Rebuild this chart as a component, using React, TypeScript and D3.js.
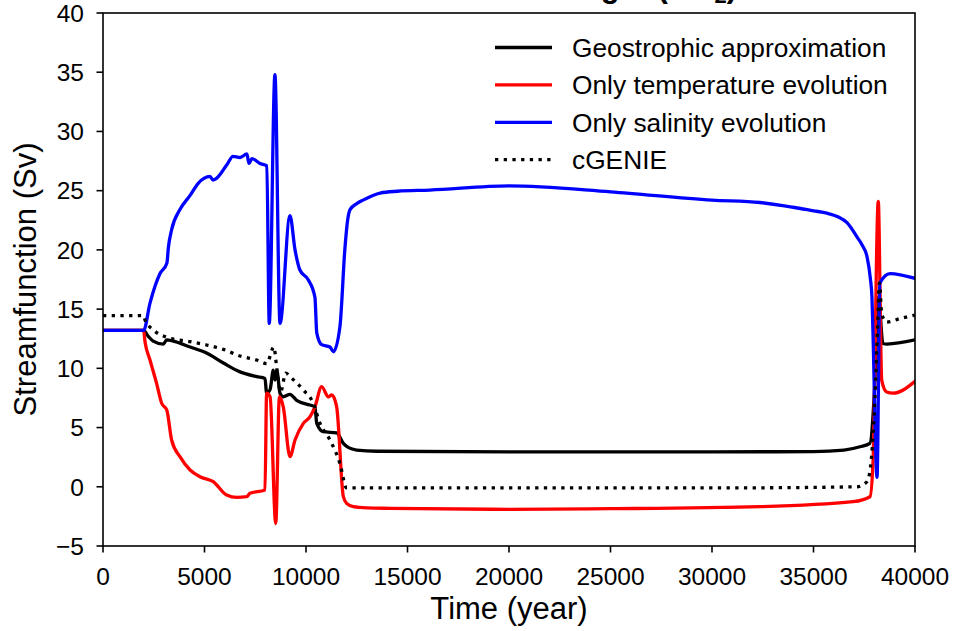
import React from 'react';
import * as d3 from 'd3';

// values (year, Sv)
const geoYears = [0, 2000, 2230, 2470, 2970, 3140, 3460, 4290, 5100, 5930, 6750, 7570, 7980, 8060, 8230, 8390, 8470, 8560, 8720, 8880, 9210, 9540, 10200, 10440, 10530, 10850, 11510, 11840, 12100, 12500, 13500, 20000, 30000, 35000, 36500, 37290, 37780, 38000, 38200, 38420, 38620, 40000];
const geoValues = [13.2, 13.2, 12.7, 12.3, 12.05, 12.4, 12.3, 11.8, 11.3, 10.45, 9.7, 9.3, 9.15, 7.9, 8.2, 9.85, 9.0, 9.85, 7.9, 7.6, 7.8, 7.3, 6.9, 6.75, 5.35, 4.65, 4.55, 3.67, 3.3, 3.1, 3.0, 2.95, 2.95, 2.97, 3.1, 3.38, 3.67, 8.0, 16.0, 12.1, 12.05, 12.4];

const tempYears = [0, 2000, 2070, 2315, 2640, 2890, 3140, 3380, 3790, 4290, 4780, 5430, 6090, 6590, 7080, 7240, 7980, 8060, 8230, 8510, 8690, 8880, 9210, 9460, 9870, 10200, 10440, 10770, 11100, 11270, 11510, 11840, 12000, 12330, 13000, 14140, 20000, 25000, 32360, 36950, 37780, 37930, 38190, 38360, 38600, 38920, 40000];
const tempValues = [13.2, 13.2, 12.25, 10.7, 8.73, 7.05, 6.5, 3.95, 2.54, 1.42, 0.85, 0.43, -0.7, -0.9, -0.84, -0.55, -0.27, 7.9, 7.6, -3.1, 7.6, 6.75, 2.54, 3.95, 5.35, 5.92, 6.75, 8.45, 7.6, 7.75, 6.75, -0.84, -1.4, -1.68, -1.78, -1.82, -1.9, -1.85, -1.68, -1.26, -0.84, 2.0, 24.1, 9.0, 8.0, 7.9, 8.9];

const salYears = [0, 2000, 2315, 2808, 3150, 3220, 3380, 3790, 4290, 4680, 5270, 5420, 6110, 6400, 6750, 7090, 7190, 7340, 7730, 8070, 8190, 8470, 8720, 9210, 9460, 9700, 10100, 10440, 10530, 10770, 11180, 11350, 11670, 11920, 12050, 12170, 12500, 12810, 13650, 14500, 16100, 20000, 25000, 30000, 32360, 34000, 35000, 35660, 36200, 36650, 37140, 37400, 37640, 37800, 37880, 37930, 38130, 38270, 38770, 40000];
const salValues = [13.2, 13.2, 15.5, 18.0, 18.9, 20.2, 21.7, 23.4, 24.6, 25.6, 26.2, 25.9, 27.2, 27.9, 27.8, 28.1, 27.3, 27.7, 27.3, 27.1, 13.8, 34.8, 13.8, 22.9, 20.0, 18.3, 17.5, 16.0, 13.0, 12.0, 11.8, 11.4, 13.5, 20.2, 22.5, 23.4, 23.9, 24.2, 24.8, 24.95, 25.05, 25.4, 24.9, 24.2, 24.0, 23.6, 23.3, 23.1, 22.8, 22.3, 21.1, 20.4, 19.4, 17.6, 16.0, 13.0, 0.8, 17.2, 18.0, 17.6];

const genieYears = [0, 2000, 2070, 2480, 3140, 4290, 5100, 5930, 6750, 7570, 8060, 8420, 8560, 8750, 9000, 9210, 9870, 10360, 10690, 11180, 11670, 12000, 20000, 30000, 37140, 37640, 37860, 38030, 38150, 38250, 38360, 38600, 39260, 40000];
const genieValues = [14.45, 14.45, 14.08, 13.24, 12.62, 12.25, 11.97, 11.6, 11.04, 10.7, 10.4, 11.8, 10.0, 8.0, 9.6, 9.3, 8.17, 7.05, 5.35, 3.95, 1.98, -0.1, -0.1, -0.1, 0.0, 0.43, 2.54, 7.6, 13.2, 17.2, 14.6, 13.9, 14.2, 14.5];

const xTicks = [0, 5000, 10000, 15000, 20000, 25000, 30000, 35000, 40000];
const yTicks = [-5, 0, 5, 10, 15, 20, 25, 30, 35, 40];

const seriesNames = ['Geostrophic approximation', 'Only temperature evolution', 'Only salinity evolution', 'cGENIE'];
const seriesColors = ['#000000', '#ff0000', '#0000ff', '#000000'];

const W = 956;
const H = 631;
const FONT = '"Liberation Sans", Arial, sans-serif';

export default function App() {
  const x = d3.scaleLinear().domain([0, 40000]).range([103, 915]);
  const y = d3.scaleLinear().domain([-5, 40]).range([546, 13]);

  const line = d3.line<[number, number]>()
    .x(d => x(d[0]))
    .y(d => y(d[1]))
    .curve(d3.curveMonotoneX);

  const zip = (ts: number[], vs: number[]) => ts.map((t, i) => [t, vs[i]] as [number, number]);
  const series = [
    zip(geoYears, geoValues),
    zip(tempYears, tempValues),
    zip(salYears, salValues),
    zip(genieYears, genieValues),
  ];

  const lw = 3.3;
  const dots = '3.3,5.4';

  return (
    <svg width={W} height={H} style={{ position: 'absolute', left: 0, top: 0, background: '#fff' }} fontFamily={FONT}>
      <defs>
        <clipPath id="plot">
          <rect x={103} y={13} width={812} height={533} />
        </clipPath>
      </defs>
      <rect width={W} height={H} fill="#fff" />

      {/* title, mostly outside the picture */}
      <text x={737} y={-3} textAnchor="end" fontSize={31} fontWeight="bold">
        Maximum AMOC strength (CO<tspan fontSize={22} dy={6}>2</tspan><tspan dy={-6}>)</tspan>
      </text>

      <g clipPath="url(#plot)" fill="none" strokeLinejoin="round">
        {series.map((s, i) => (
          <path key={i} d={line(s) || ''} stroke={seriesColors[i]} strokeWidth={lw}
            strokeDasharray={i === 3 ? dots : undefined} strokeLinecap={i === 3 ? 'butt' : 'square'} />
        ))}
      </g>

      {/* frame */}
      <rect x={103} y={13} width={812} height={533} fill="none" stroke="#000" strokeWidth={1.6} />

      {/* x axis */}
      {xTicks.map(t => (
        <g key={t}>
          <line x1={x(t)} x2={x(t)} y1={546} y2={552.5} stroke="#000" strokeWidth={1.6} />
          <text x={x(t)} y={585} textAnchor="middle" fontSize={24.5}>{t}</text>
        </g>
      ))}
      <text x={509} y={619} textAnchor="middle" fontSize={31}>Time (year)</text>

      {/* y axis */}
      {yTicks.map(v => (
        <g key={v}>
          <line x1={96.5} x2={103} y1={y(v)} y2={y(v)} stroke="#000" strokeWidth={1.6} />
          <text x={84} y={y(v) + 8.8} textAnchor="end" fontSize={24.5}>{v < 0 ? `\u2212${-v}` : v}</text>
        </g>
      ))}
      <text transform={`translate(36,${279.5}) rotate(-90)`} textAnchor="middle" fontSize={31}>Streamfunction (Sv)</text>

      {/* legend */}
      {seriesNames.map((name, i) => {
        const ry = 47.5 + i * 37.4;
        return (
          <g key={name}>
            <line x1={495} x2={552} y1={ry} y2={ry} stroke={seriesColors[i]} strokeWidth={lw}
              strokeDasharray={i === 3 ? dots : undefined} />
            <text x={572} y={ry + 9.5} fontSize={26.3}>{name}</text>
          </g>
        );
      })}
    </svg>
  );
}
